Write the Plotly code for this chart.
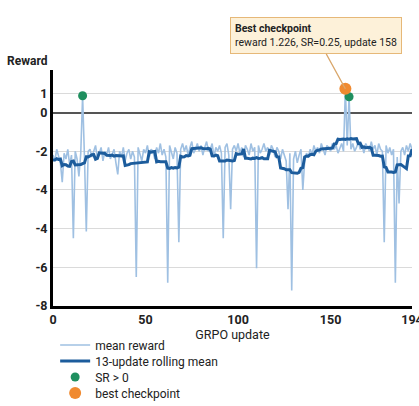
import plotly.graph_objects as go
import pandas as pd

updates = list(range(195))
mean_reward = [
    -2.2, -2.5, -1.9, -2.3, -2.6, -3.6, -2.1, -2.4, -1.9, -2.7,
    -2.2, -6.5, -2.0, -2.4, -3.3, -2.1, 0.87, -2.3, -6.15, -2.0,
    -1.9, -2.3, -2.0, -1.7, -2.4, -2.1, -1.8, -2.5, -2.0, -2.2,
    -1.8, -2.4, -2.1, -1.9, -2.6, -3.2, -2.0, -2.3, -1.8, -2.5,
    -2.1, -1.9, -2.4, -2.0, -2.3, -8.5, -1.8, -2.2, -2.5, -1.9,
    -2.1, -1.7, -2.3, -1.9, -2.0, -2.4, -1.8, -2.1, -1.6, -2.2,
    -1.9, -2.3, -8.8, -1.7, -2.0, -2.4, -1.8, -2.1, -6.7, -1.9,
    -1.6, -2.0, -1.7, -2.2, -1.8, -1.5, -2.1, -1.9, -1.6, -2.0,
    -1.7, -2.2, -1.8, -1.5, -2.0, -1.9, -1.6, -2.3, -1.8, -2.0,
    -1.7, -2.1, -6.5, -1.8, -1.6, -2.2, -5.0, -1.9, -1.7, -2.0,
    -1.6, -2.1, -1.8, -2.3, -1.7, -1.9, -2.2, -1.6, -2.0, -1.8,
    -8.05, -1.7, -2.1, -1.9, -1.6, -2.0, -1.8, -2.2, -1.7, -1.9,
    -2.3, -1.8, -2.0, -2.4, -1.9, -2.2, -2.5, -5.0, -2.1, -9.2,
    -2.4, -2.0, -2.6, -2.2, -1.9, -4.0, -2.5, -2.1, -2.3, -1.9,
    -2.2, -1.7, -2.0, -1.8, -2.1, -1.6, -1.9, -2.2, -1.7, -1.8,
    -2.0, -1.6, -1.9, -1.7, -2.1, -1.8, -1.6, -2.0, 1.226, -1.7,
    0.82, -1.9, -1.6, -2.0, -1.8, -1.5, -1.9, -1.7, -2.1, -1.6,
    -1.8, -2.0, -1.5, -1.9, -1.7, -2.2, -1.6, -1.9, -2.0, -6.7,
    -1.7, -2.1, -1.8, -2.2, -1.9, -8.8, -2.3, -4.7, -2.0, -1.8,
    -2.2, -1.7, -2.0, -1.6, -1.9,
]
sr_updates = [16, 158, 160]
best_update = 158
best_reward = 1.226
best_sr = 0.25

y_tickvals = [1, 0, -2, -4, -6, -8, -10]
y_ticktext = ["1", "0", "-2", "-4", "-4", "-6", "-8"]
x_tickvals = [0, 50, 100, 150, 194]

rolling = pd.Series(mean_reward).rolling(13, center=True, min_periods=1).mean()
sr_rewards = [mean_reward[u] for u in sr_updates]

FONT = "Roboto, sans-serif"
LEG_FONT = dict(family=FONT, size=12, color="#222")

fig = go.Figure()
fig.add_trace(go.Scatter(x=updates, y=mean_reward, mode="lines", name="mean reward",
                         line=dict(color="#9fc0e2", width=1.6), legend="legend"))
fig.add_trace(go.Scatter(x=updates, y=rolling, mode="lines", name="13-update rolling mean",
                         line=dict(color="#1c5c9c", width=3), legend="legend2"))
fig.add_trace(go.Scatter(x=sr_updates, y=sr_rewards, mode="markers", name="SR > 0",
                         marker=dict(color="#1f8f5f", size=9), legend="legend3"))
fig.add_trace(go.Scatter(x=[best_update], y=[best_reward], mode="markers", name="best checkpoint",
                         marker=dict(color="#f08a30", size=12), legend="legend4"))

fig.add_annotation(x=best_update, y=best_reward, xref="x", yref="y",
                   text=f"<b>Best checkpoint</b><br>reward {best_reward}, SR={best_sr}, update {best_update}",
                   showarrow=True, arrowhead=0, arrowwidth=1.2, arrowcolor="#d9a66a",
                   ax=-29, ay=-53, align="left",
                   bgcolor="#fdf1d9", bordercolor="#e6b878", borderwidth=1, borderpad=4,
                   font=dict(family=FONT, size=10.5, color="#222"))
fig.add_annotation(x=-0.07, y=1.0, xref="paper", yref="paper", xanchor="center", yanchor="bottom",
                   text="<b>Reward</b>", showarrow=False,
                   font=dict(family=FONT, size=12, color="#222"))


def leg(center_px):
    return dict(x=0.006, y=-(center_px - 306) / 236, xanchor="left", yanchor="middle",
                orientation="v", font=LEG_FONT, bgcolor="rgba(0,0,0,0)", tracegroupgap=0)


fig.update_layout(
    width=419, height=406,
    margin=dict(l=53, r=7, t=70, b=100, autoexpand=False),
    paper_bgcolor="white", plot_bgcolor="white",
    font=dict(family=FONT, size=12, color="#222"),
    showlegend=True,
    legend=leg(345), legend2=leg(361), legend3=leg(377), legend4=leg(393),
    xaxis=dict(range=[0, 194], tickvals=x_tickvals, showgrid=False, zeroline=False,
               showline=True, linecolor="black", linewidth=3, ticks="",
               ticklabeloverflow="allow",
               tickfont=dict(family=FONT, size=12.5, color="#222", weight="bold"),
               title=dict(text="GRPO update", standoff=2,
                          font=dict(family=FONT, size=12.5, color="#222"))),
    yaxis=dict(range=[-10, 2.2], tickvals=y_tickvals, ticktext=y_ticktext,
               showgrid=True, gridcolor="#dadada", gridwidth=1,
               zeroline=True, zerolinecolor="#555", zerolinewidth=1.5,
               showline=True, linecolor="black", linewidth=3, ticks="",
               tickfont=dict(family=FONT, size=12.5, color="#222", weight="bold")),
)

fig.write_html("out.html")
